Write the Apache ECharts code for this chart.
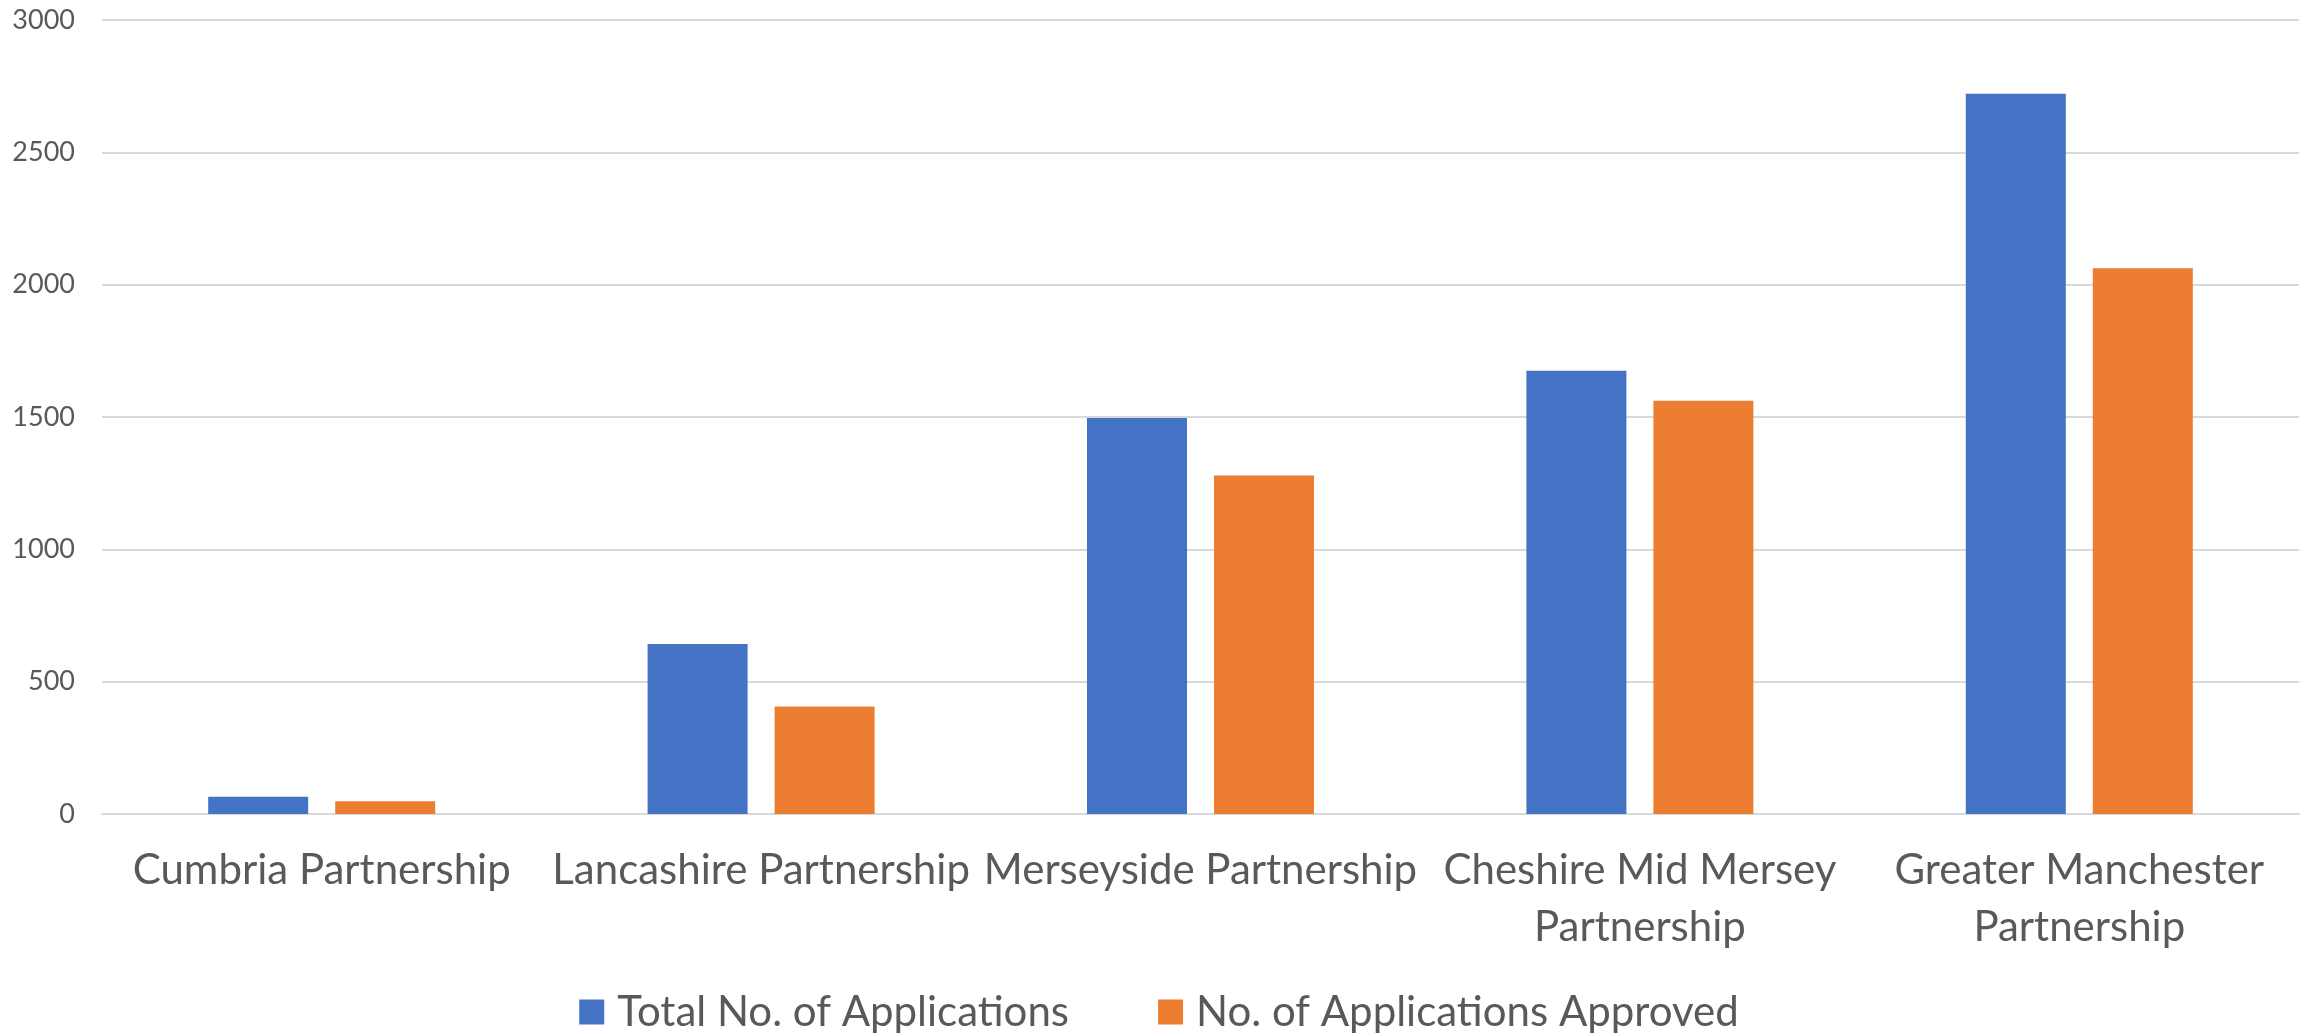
<!DOCTYPE html>
<html>
<head>
<meta charset="utf-8">
<script src="https://cdn.jsdelivr.net/npm/echarts@6/dist/echarts.min.js"></script>
<style>
html,body{margin:0;padding:0;background:#fff;}
#chart{width:2318px;height:1036px;}
</style>
</head>
<body>
<div id="chart"></div>
<script>
const categories = ["Cumbria Partnership", "Lancashire Partnership", "Merseyside Partnership", "Cheshire Mid Mersey Partnership", "Greater Manchester Partnership"];
const totalApplications = [65, 642, 1496, 1675, 2721];
const approvedApplications = [48, 406, 1279, 1561, 2062];
const seriesNames = ["Total No. of Applications", "No. of Applications Approved"];
const yTicks = [0, 500, 1000, 1500, 2000, 2500, 3000];

const chart = echarts.init(document.getElementById('chart'));
const txt = '#595959';
const grid = '#D9D9D9';
chart.setOption({
  animation: false,
  backgroundColor: '#ffffff',
  grid: {left: 102, right: 19, top: 20, bottom: 222, containLabel: false},
  legend: {
    data: seriesNames,
    top: 991,
    left: 'center',
    padding: 0,
    icon: 'rect',
    itemWidth: 25,
    itemHeight: 25,
    itemGap: 89,
    textStyle: {color: txt, fontFamily: 'Lato', fontSize: 42, lineHeight: 42, padding: [0, 0, 0, 8]}
  },
  xAxis: {
    type: 'category',
    data: categories,
    axisLine: {show: true, lineStyle: {color: grid, width: 2}},
    axisTick: {show: false},
    axisLabel: {
      color: txt, fontFamily: 'Lato', fontSize: 42, lineHeight: 57, margin: 28, interval: 0,
      formatter: function (v) {
        if (v.length > 25) {
          const i = v.lastIndexOf(' ');
          return v.slice(0, i) + '\n' + v.slice(i + 1);
        }
        return v;
      }
    }
  },
  yAxis: {
    type: 'value',
    min: yTicks[0],
    max: yTicks[yTicks.length - 1],
    interval: yTicks[1] - yTicks[0],
    axisLine: {show: false},
    axisTick: {show: false},
    splitLine: {lineStyle: {color: grid, width: 2}},
    axisLabel: {color: txt, fontFamily: 'Lato', fontSize: 27, margin: 27, formatter: function (v) { return String(v); }}
  },
  series: [
    {name: seriesNames[0], type: 'bar', data: totalApplications, barWidth: 100, barGap: '27%', itemStyle: {color: '#4472C4'}},
    {name: seriesNames[1], type: 'bar', data: approvedApplications, barWidth: 100, itemStyle: {color: '#ED7D31'}}
  ]
});
</script>
</body>
</html>
